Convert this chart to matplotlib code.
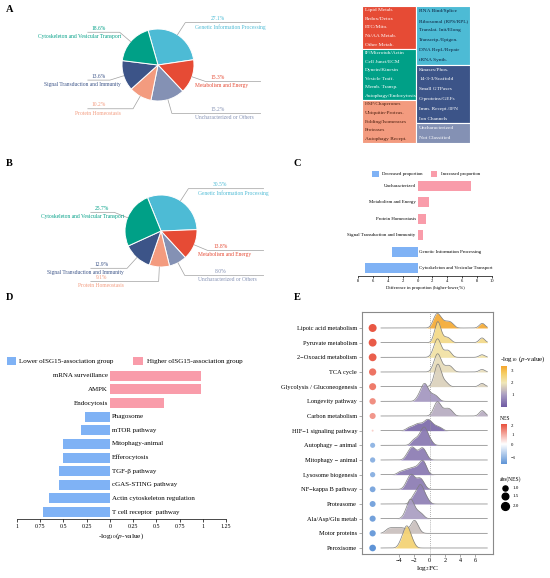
import numpy as np
import matplotlib
matplotlib.use('Agg')
import matplotlib.pyplot as plt
from matplotlib.colors import LinearSegmentedColormap, Normalize, TwoSlopeNorm
from matplotlib.cm import ScalarMappable
from matplotlib.patches import Rectangle
from matplotlib.ticker import FuncFormatter

plt.rcParams['font.family'] = ['Liberation Serif', 'DejaVu Serif']
plt.rcParams['mathtext.fontset'] = 'stix'

W, H = 550, 578

# ---------------- data ----------------
# pies A / B
cat_names = ['Genetic Information Processing', 'Metabolism and Energy',
             'Uncharacterized or Others', 'Protein Homeostasis',
             'Signal Transduction and Immunity', 'Cytoskeleton and Vesicular Transport']
share_a = [27.1, 15.3, 15.2, 10.2, 13.6, 18.6]
share_b = [30.5, 13.8, 8.0, 9.1, 12.9, 25.7]

# category table next to A
tab_left = [['Lipid Metab.', 'Redox/Detox', 'ETC/Mito.', 'Nt/AA Metab.', 'Other Metab.'],
            ['IF/Microtub/Actin', 'Cell Junct/ECM', 'Dynein/Kinesin', 'Vesicle Traff.',
             'Memb. Transp.', 'Autophagy/Endocytosis'],
            ['HSP/Chaperones', 'Ubiquitin-Proteas.', 'Folding/Isomerases', 'Proteases',
             'Autophagy Recept.']]
tab_right = [['RNA Bind/Splice', 'Ribosomal (RPS/RPL)', 'Translat. Init/Elong',
              'Transcrip./Epigen.', 'DNA Repl./Repair', 'tRNA Synth.'],
             ['Kinases/Phos.', '14-3-3/Scaffold', 'Small GTPases', 'G-proteins/GEFs',
              'Imm. Recept./IFN', 'Ion Channels'],
             ['Uncharacterized', 'Not Classified']]

# C: difference in proportion
diff_labels = ['Uncharacterized', 'Metabolism and Energy', 'Protein Homeostasis',
               'Signal Transduction and Immunity', 'Genetic Information Processing',
               'Cytoskeleton and Vesicular Transport']
diff_values = [7.2, 1.5, 1.1, 0.7, -3.4, -7.1]

# D: pathway enrichment
path_d = ['mRNA surveillance', 'AMPK', 'Endocytosis', 'Phagosome', 'mTOR pathway',
          'Mitophagy-animal', 'Efferocytosis', 'TGF-β pathway', 'cGAS-STING pathway',
          'Actin cytoskeleton regulation', 'T cell receptor  pathway']
val_d = [0.98, 0.98, 0.58, -0.27, -0.31, -0.50, -0.50, -0.55, -0.55, -0.66, -0.72]

# E: GSEA ridges
path_e = ['Lipoic acid metabolism', 'Pyruvate metabolism', '2\u2212Oxoacid metabolism',
          'TCA cycle', 'Glycolysis / Gluconeogenesis', 'Longevity pathway',
          'Carbon metabolism', 'HIF\u22121 signaling pathway', 'Autophagy \u2212 animal',
          'Mitophagy \u2212 animal', 'Lysosome biogenesis', 'NF\u2212kappa B pathway',
          'Proteasome', 'Ala/Asp/Glu metab', 'Motor proteins', 'Peroxisome']
nes_e = [2.1, 2.05, 2.0, 1.75, 1.65, 1.4, 1.3, 0.6, -1.0, -1.05, -1.05, -1.2,
         -1.25, -1.3, -1.35, -1.5]
logp_e = [3.3, 2.45, 2.2, 1.85, 1.7, 0.9, 1.2, 0.25, 0.45, 0.5, 0.45, 0.5,
          0.55, 1.0, 1.45, 2.65]
fc_lipoic = [0.5, 0.7, 0.85, 0.95, 1.05, 1.15, 1.3, 1.5, 1.75, 2.1, 2.4, 2.7, 3.0, 6.85, 7.0]
fc_pyruvate = [0.75, 0.85, 0.95, 1.0, 1.05, 1.1, 1.15, 1.2, 1.3, 1.45, 1.9, 2.3, 2.6, 6.85, 6.95]
fc_oxoacid = [0.45, 0.7, 0.85, 0.95, 1.05, 1.1, 1.15, 1.25, 1.4, 1.8, 2.2, 2.45, 2.7, 6.9]
fc_tca = [0.5, 0.75, 0.9, 1.0, 1.05, 1.1, 1.2, 1.3, 1.5, 1.9, 2.3, 2.6, 2.9, 6.9]
fc_glyco = [0.6, 0.85, 0.95, 1.05, 1.1, 1.15, 1.25, 1.4, 1.7, 2.2, 6.9]
fc_longevity = [-1.5, -1.15, -0.95, -0.8, -0.7, -0.6, -0.5, -0.35, -0.1, 0.25, 0.6, 1.0]
fc_carbon = [0.55, 0.8, 0.95, 1.05, 1.15, 1.3, 1.6, 2.0, 2.3, 2.6, 2.9, 6.85, 7.0]
fc_hif = [-2.8, -2.3, -1.9, -1.6, -1.4, -1.1, -0.8, -0.55, -0.4, -0.25, -0.1, 0.05,
          0.25, 0.55, 0.95, 1.4]
fc_autophagy = [-2.2, -1.8, -1.4, -1.15, -0.95, -0.8, -0.7, -0.6, -0.45, -0.25, 0.15]
fc_mitophagy = [-3.0, -2.65, -2.45, -2.3, -2.15, -1.95, -1.6, -1.25, -1.05, -0.9, -0.75, -0.45]
fc_lysosome = [-3.9, -3.3, -2.9, -2.5, -2.2, -1.9, -1.6, -1.35, -1.15, -1.0, -0.9, -0.8,
               -0.65, -0.45]
fc_nfkb = [-3.1, -2.8, -2.6, -2.45, -2.35, -2.2, -2.0, -1.65, -1.4, -1.25, -1.05, -0.75]
fc_proteasome = [-2.3, -2.0, -1.75, -1.5, -1.35, -1.25, -1.15, -1.05, -0.9, -0.65, -0.3]
fc_ala = [-3.2, -2.9, -2.7, -2.6, -2.5, -2.4, -2.3, -2.1, -1.8, -1.45, -1.0]
fc_motor = [-5.6, -5.2, -4.8, -4.4, -4.0, -3.6, -3.2, -2.6, -2.25, -2.1, -2.0, -1.9,
            -1.75, -1.45]
fc_peroxisome = [-3.8, -3.45, -3.25, -3.1, -3.0, -2.9, -2.75, -2.55, -2.2]
fc_e = [fc_lipoic, fc_pyruvate, fc_oxoacid, fc_tca, fc_glyco, fc_longevity, fc_carbon,
        fc_hif, fc_autophagy, fc_mitophagy, fc_lysosome, fc_nfkb, fc_proteasome,
        fc_ala, fc_motor, fc_peroxisome]

# ---------------- styles ----------------
cat_colors = ['#4DBBD5', '#E64B35', '#8491B4', '#F39B7F', '#3C5488', '#00A087']
tab_left_colors = ['#E64B35', '#00A087', '#F39B7F']
tab_right_colors = ['#4DBBD5', '#3C5488', '#8491B4']
tab_left_text = ['white', 'white', '#4A1E0E']
tab_right_text = ['#0E2240', 'white', 'white']
BLUE = '#7FB2F5'
PINK = '#F99CAA'


def rect(x0, y0, x1, y1):
    # pixel box (origin top-left) -> figure fraction
    return [x0 / W, 1 - y1 / H, (x1 - x0) / W, (y1 - y0) / H]


fig = plt.figure(figsize=(W / 100, H / 100), dpi=100)


def ftext(x, y, s, **kw):
    fig.text(x / W, 1 - y / H, s, **kw)


def fpatch(x0, y0, x1, y1, color):
    fig.patches.append(Rectangle((x0 / W, 1 - y1 / H), (x1 - x0) / W, (y1 - y0) / H,
                                 transform=fig.transFigure, facecolor=color,
                                 edgecolor='none'))


for letter, x, y in [('A', 6, 10), ('B', 6, 163), ('C', 294, 163), ('D', 6, 297), ('E', 294, 297)]:
    ftext(x, y, letter, fontsize=7.5, fontweight='bold', va='center', ha='left')


# ---------------- A / B pies ----------------
def draw_pie(cx, cy, shares, start):
    r = 36
    ax = fig.add_axes(rect(cx - 3.3 * r, cy - 1.75 * r, cx + 3.3 * r, cy + 1.75 * r))
    wedges, _ = ax.pie(shares, colors=cat_colors, startangle=start, counterclock=False,
                       wedgeprops=dict(edgecolor='white', linewidth=0.7))
    for w, s, name, col in zip(wedges, shares, cat_names, cat_colors):
        mid = np.deg2rad((w.theta1 + w.theta2) / 2)
        c, sn = np.cos(mid), np.sin(mid)
        ex, ey = 1.4 * c, 1.4 * sn
        side = 1 if c >= 0 else -1
        xend = 2.85 if side > 0 else -1.95
        ax.plot([c, ex, xend], [sn, ey, ey], color='#A0A0A0', lw=0.5, clip_on=False)
        ax.text(1.65 * side, ey + 0.04, f'{s:.1f}%', color=col, fontsize=4,
                ha='center', va='bottom')
        ax.text(1.03 * side, ey - 0.05, name, color=col, fontsize=4,
                ha='left' if side > 0 else 'right', va='top')
    ax.set_xlim(-3.3, 3.3)
    ax.set_ylim(-1.75, 1.75)
    ax.set_aspect('auto')
    ax.axis('off')


draw_pie(158, 65, share_a, 106)
draw_pie(161, 231, share_b, 112)

# ---------------- A table ----------------
axt = fig.add_axes(rect(362, 6, 470, 143))
axt.set_xlim(0, 2)
axt.set_ylim(0, 1)
axt.axis('off')
for col, (blocks, fcs, tcs) in enumerate([(tab_left, tab_left_colors, tab_left_text),
                                          (tab_right, tab_right_colors, tab_right_text)]):
    total = sum(len(b) for b in blocks)
    top = 1.0
    for items, fc, tc in zip(blocks, fcs, tcs):
        h = len(items) / total
        axt.add_patch(Rectangle((col, top - h), 1, h, facecolor=fc, edgecolor='white',
                                lw=0.8, zorder=1 + 2 * col))
        for k, it in enumerate(items):
            axt.text(col + 0.06, top - (k + 0.5) * h / len(items), it, color=tc,
                     fontsize=3.9, va='center', ha='left', zorder=1.5 + 2 * col)
        top -= h

# ---------------- C ----------------
axc = fig.add_axes(rect(358, 180, 492, 276))
yc = np.arange(len(diff_labels))[::-1]
axc.barh(yc, diff_values, height=0.62, color=[PINK if v > 0 else BLUE for v in diff_values])
for y, v, lab in zip(yc, diff_values, diff_labels):
    if v > 0:
        axc.text(-0.25, y, lab, ha='right', va='center', fontsize=3.5)
    else:
        axc.text(0.25, y, lab, ha='left', va='center', fontsize=3.5)
axc.set_xlim(-8, 10)
axc.set_ylim(-0.485, 5.36)
axc.set_xticks(np.arange(-8, 11, 2))
axc.xaxis.set_major_formatter(FuncFormatter(lambda v, p: f'{abs(v):g}'))
axc.tick_params(axis='x', labelsize=3.3, length=1.5, width=0.5, pad=1)
axc.set_yticks([])
for s in ['top', 'right', 'left']:
    axc.spines[s].set_visible(False)
axc.spines['bottom'].set_linewidth(0.5)
axc.set_xlabel('Difference in proportion (higher-lower,%)', fontsize=3.3, labelpad=1.5)
fpatch(372, 171, 379, 177, BLUE)
ftext(382, 174, 'Decreased proportion', fontsize=3.4, va='center')
fpatch(431, 171, 437, 177, PINK)
ftext(441, 174, 'Increased proportion', fontsize=3.4, va='center')

# ---------------- D ----------------
axd = fig.add_axes(rect(17, 369, 226, 519))
yd = np.arange(len(path_d))[::-1]
axd.barh(yd, val_d, height=0.74, color=[PINK if v > 0 else BLUE for v in val_d])
for y, v, lab in zip(yd, val_d, path_d):
    if v > 0:
        axd.text(-0.02, y, lab, ha='right', va='center', fontsize=5)
    else:
        axd.text(0.02, y, lab, ha='left', va='center', fontsize=5)
axd.set_xlim(-1, 1.25)
axd.set_ylim(-0.51, 10.5)
axd.set_xticks(np.arange(-1, 1.26, 0.25))
axd.xaxis.set_major_formatter(FuncFormatter(lambda v, p: f'{abs(v):g}'))
axd.tick_params(axis='x', labelsize=4.3, length=2, width=0.5, pad=1.5)
axd.set_yticks([])
for s in ['top', 'right', 'left']:
    axd.spines[s].set_visible(False)
axd.spines['bottom'].set_linewidth(0.5)
axd.set_xlabel(r'-log$_{10}$($p$-value)', fontsize=5.3, labelpad=2)
fpatch(7, 357, 16, 365, BLUE)
ftext(19, 361, 'Lower oISG15-association group', fontsize=5.1, va='center')
fpatch(133, 357, 143, 365, PINK)
ftext(147, 361, 'Higher oISG15-association group', fontsize=5.1, va='center')

# ---------------- E ----------------
p_cmap = LinearSegmentedColormap.from_list(
    'pcol', [(0.0, '#6E5AA3'), (1.0 / 3.4, '#A99DC2'), (2.0 / 3.4, '#F0E7B8'),
             (2.8 / 3.4, '#F5CD62'), (1.0, '#F4A42C')])
p_norm = Normalize(0, 3.4)
n_cmap = LinearSegmentedColormap.from_list('ncol', ['#5E93D6', '#FFFFFF', '#E8503C'])
n_norm = TwoSlopeNorm(vmin=-1.5, vcenter=0, vmax=2.2)

axe = fig.add_axes(rect(362, 312, 493, 554))
x_grid = np.linspace(-6.4, 7.6, 700)
bw = 0.36
n = len(path_e)
ye = np.arange(n)[::-1]
for i, (vals, lp) in enumerate(zip(fc_e, logp_e)):
    v = np.asarray(vals)[:, None]
    dens = np.exp(-0.5 * ((x_grid - v) / bw) ** 2).sum(0) / (len(vals) * bw * np.sqrt(2 * np.pi))
    top = ye[i] + 2.2 * dens
    axe.fill_between(x_grid, ye[i], top, color=p_cmap(p_norm(lp)), alpha=0.92,
                     lw=0, zorder=2 + i)
    axe.plot(x_grid, top, color='#7E7E7E', lw=0.5, zorder=2.5 + i)
axe.axvline(0, color='#9A9A9A', lw=0.6, ls=(0, (1, 1.5)), zorder=40)
size_px = 2 + 6 * np.sqrt(np.clip((np.abs(nes_e) - 0.6) / 1.5, 0, None))
axe.scatter(np.full(n, -7.5), ye, s=(size_px * 0.72) ** 2, c=nes_e, cmap=n_cmap,
            norm=n_norm, edgecolors='none', zorder=50)
axe.set_xlim(-8.9, 8.35)
axe.set_ylim(-0.41, 16.09)
axe.set_xticks([-4, -2, 0, 2, 4, 6])
axe.set_yticks(ye)
axe.set_yticklabels(path_e, fontsize=4.6)
axe.tick_params(axis='x', labelsize=4.4, length=2, width=0.5, color='#8A8A8A', pad=1)
axe.tick_params(axis='y', length=2, width=0.5, color='#8A8A8A', pad=1.5)
for s in axe.spines.values():
    s.set_color('#8A8A8A')
    s.set_linewidth(0.8)
axe.set_xlabel(r'log$_2$FC', fontsize=5.3, labelpad=0.5)

cax1 = fig.add_axes(rect(501, 366, 507, 407))
cb1 = fig.colorbar(ScalarMappable(norm=p_norm, cmap=p_cmap), cax=cax1, ticks=[1, 2, 3])
cb1.outline.set_visible(False)
cax1.tick_params(labelsize=3.5, length=1.5, width=0.4, color='white', pad=1.5)
ftext(500, 359, r'-log$_{10}$ ($p$-value)', fontsize=5, va='center')

cax2 = fig.add_axes(rect(501, 424, 507, 464))
cb2 = fig.colorbar(ScalarMappable(norm=n_norm, cmap=n_cmap), cax=cax2, ticks=[-1, 0, 1, 2])
cb2.outline.set_visible(False)
cax2.tick_params(labelsize=3.5, length=1.5, width=0.4, color='white', pad=1.5)
ftext(500, 419, 'NES', fontsize=4, va='center')

ftext(500, 479, 'abs(NES)', fontsize=4, va='center')
for a, y in zip([1.0, 1.5, 2.0], [488, 496, 506]):
    d = 2 + 6 * np.sqrt((a - 0.6) / 1.5)
    fig.add_artist(plt.Line2D([505 / W], [1 - y / H], marker='o', color='black',
                              markersize=d * 0.72, transform=fig.transFigure, lw=0))
    ftext(513, y, f'{a:.1f}', fontsize=3.6, va='center')

fig.savefig('out.png', dpi=100)
